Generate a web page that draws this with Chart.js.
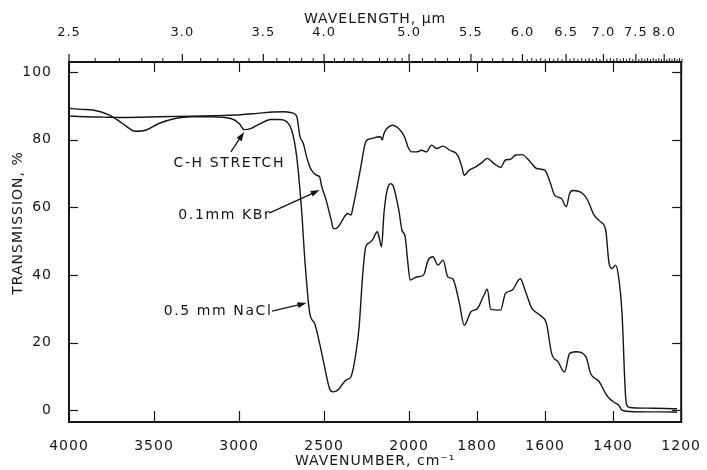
<!DOCTYPE html>
<html>
<head>
<meta charset="utf-8">
<title>IR transmission spectrum</title>
<script src="https://cdn.jsdelivr.net/npm/chart.js@4.4.1/dist/chart.umd.min.js"></script>
<style>
  html, body { margin: 0; padding: 0; background: #fff; }
  #wrap { width: 707px; height: 470px; }
</style>
</head>
<body>
<div id="wrap"><canvas id="spectrum" width="707" height="470"></canvas></div>
<script>
(function() {
    'use strict';

    // bottom axis, cm-1 (scale doubles below 2000)
    var wavenumberTicks = [4000, 3500, 3000, 2500, 2000, 1800, 1600, 1400, 1200];
    // top axis, um
    var wavelengthTicks = ['2.5', '3.0', '3.5', '4.0', '5.0', '5.5', '6.0', '6.5', '7.0', '7.5', '8.0'];
    var transmissionTicks = [0, 20, 40, 60, 80, 100];

    // 0.1 mm KBr pellet
    var kbrWavenumber = [4000, 3900, 3800, 3666, 3472, 3279, 3086, 2990, 2893, 2800, 2738, 2690, 2661,
        2642, 2622, 2603, 2584, 2574, 2545, 2526, 2516, 2487, 2458, 2446, 2430, 2419, 2400, 2381, 2361,
        2342, 2330, 2313, 2284, 2255, 2235, 2216, 2187, 2168, 2158, 2150, 2139, 2120, 2100, 2080, 2062,
        2040, 2023, 2008, 1992, 1978, 1963, 1949, 1934, 1920, 1900, 1881, 1857, 1845, 1838, 1823, 1804,
        1789, 1770, 1751, 1731, 1717, 1702, 1688, 1668, 1644, 1625, 1601, 1586, 1572, 1552, 1538, 1528,
        1518, 1490, 1475, 1456, 1437, 1422, 1412, 1403, 1393, 1384, 1374, 1364, 1360, 1350, 1300, 1250, 1212];
    var kbrTransmission = [87.0, 86.8, 86.7, 86.6, 86.8, 87.0, 87.2, 87.4, 87.8, 88.2, 88.3, 88.0, 87.0,
        81.0, 78.9, 75.0, 72.0, 71.0, 69.5, 69.0, 66.6, 62.0, 56.2, 53.8, 53.7, 54.2, 55.5, 57.2, 58.2,
        57.7, 60.0, 64.2, 72.0, 79.4, 80.2, 80.4, 80.8, 80.9, 79.9, 81.5, 82.8, 83.8, 84.3, 84.0, 83.3,
        82.0, 80.4, 78.0, 76.4, 76.4, 76.9, 76.4, 78.4, 77.4, 78.1, 76.9, 75.4, 72.0, 69.5, 71.0, 72.0,
        73.0, 74.5, 73.0, 71.8, 74.0, 74.2, 75.4, 75.6, 73.5, 71.5, 71.0, 67.6, 63.6, 62.6, 60.2, 64.1,
        65.0, 64.1, 62.1, 57.7, 55.7, 53.3, 43.4, 41.9, 42.9, 39.4, 28.7, 4.9, 1.5, 0.8, 0.6, 0.5, 0.4];

    // 0.5 mm NaCl cell
    var naclWavenumber = [4000, 3930, 3859, 3762, 3685, 3608, 3550, 3472, 3376, 3279, 3163, 3048, 2999,
        2970, 2932, 2874, 2816, 2758, 2719, 2690, 2661, 2632, 2613, 2584, 2555, 2526, 2497, 2468, 2448,
        2430, 2410, 2390, 2371, 2342, 2313, 2294, 2274, 2255, 2235, 2216, 2187, 2177, 2162, 2148, 2129,
        2110, 2095, 2081, 2060, 2042, 2023, 2010, 1997, 1978, 1958, 1944, 1930, 1915, 1900, 1886, 1872,
        1852, 1838, 1818, 1799, 1780, 1770, 1760, 1731, 1717, 1697, 1673, 1659, 1639, 1615, 1596, 1581,
        1562, 1543, 1528, 1509, 1480, 1466, 1441, 1422, 1412, 1395, 1384, 1374, 1350, 1300, 1250, 1212];
    var naclTransmission = [89.3, 89.0, 88.8, 87.3, 84.8, 82.5, 82.8, 84.8, 86.3, 86.8, 86.8, 86.3, 84.8,
        83.0, 83.3, 84.8, 86.0, 86.0, 85.3, 82.8, 75.0, 59.0, 44.4, 28.6, 25.6, 19.7, 12.8, 6.4, 5.4,
        5.6, 6.4, 7.8, 8.9, 9.9, 16.8, 24.6, 39.4, 48.3, 49.5, 50.3, 52.8, 51.3, 48.3, 58.2, 65.1,
        67.0, 66.5, 64.1, 59.0, 53.3, 51.3, 45.0, 38.5, 39.4, 39.9, 44.4, 45.4, 42.9, 44.4, 39.4, 38.9,
        31.6, 25.1, 29.1, 30.1, 34.0, 35.8, 29.8, 29.6, 34.5, 35.5, 38.9, 35.5, 30.1, 28.1, 25.6, 16.8,
        14.3, 11.3, 16.8, 17.3, 15.8, 10.8, 8.4, 4.9, 3.5, 2.2, 1.5, 0.0, -0.4, -0.5, -0.5, -0.6];

    // callouts, anchored in (cm-1, %T)
    var callouts = [
        { text: 'C-H STRETCH', at: [3385, 73.1], from: [3048, 76.4], to: [2970, 82.3] },
        { text: '0.1mm KBr', at: [3357, 57.7], from: [2823, 58.3], to: [2526, 65.1] },
        { text: '0.5 mm NaCl', at: [3443, 29.1], from: [2806, 29.3], to: [2603, 31.7] }
    ];

    var INK = '#161616';
    var FONT = 'DejaVu Sans';

    // chart position: 1 unit per cm-1 above 2000, 2 units per cm-1 below
    function wnToPos(wn) {
        return wn >= 2000 ? 4000 - wn : 2000 + 2 * (2000 - wn);
    }

    function toPoints(xs, ys) {
        return xs.map(function(w, i) { return { x: wnToPos(w), y: ys[i] }; });
    }

    function line(ctx, x1, y1, x2, y2) {
        ctx.beginPath();
        ctx.moveTo(x1, y1);
        ctx.lineTo(x2, y2);
        ctx.stroke();
    }

    var framePlugin = {
        id: 'frame',
        beforeDraw: function(chart) {
            chart.ctx.letterSpacing = '1px';
        },
        afterDraw: function(chart) {
            var ctx = chart.ctx;
            var a = chart.chartArea;
            var xs = chart.scales.x;
            var ys = chart.scales.y;

            ctx.save();
            ctx.strokeStyle = INK;
            ctx.fillStyle = INK;

            ctx.lineWidth = 2;
            ctx.strokeRect(a.left, a.top, a.right - a.left, a.bottom - a.top);

            ctx.lineWidth = 1.2;
            wavenumberTicks.forEach(function(w) {
                var x = Math.round(xs.getPixelForValue(wnToPos(w))) + 0.5;
                line(ctx, x, a.bottom, x, a.bottom - 11);
                line(ctx, x, a.top, x, a.top + 10);
            });
            transmissionTicks.forEach(function(t) {
                var y = Math.round(ys.getPixelForValue(t)) + 0.5;
                line(ctx, a.left, y, a.left + 9, y);
                line(ctx, a.right, y, a.right - 9, y);
            });

            // wavelength ticks above the frame
            wavelengthTicks.forEach(function(um) {
                var x = xs.getPixelForValue(wnToPos(1e4 / parseFloat(um)));
                line(ctx, x, a.top, x, a.top - 8);
            });
            ctx.lineWidth = 1;
            for (var k = 250; k <= 835; k += 5) {
                if (k % 50 === 0) continue;
                if (k < 600 && k % 10 !== 0) continue;
                var x = xs.getPixelForValue(wnToPos(1e6 / k));
                line(ctx, x, a.top, x, a.top - (k % 10 === 0 ? 4 : 3));
            }

            // callouts
            ctx.font = '14px "' + FONT + '"';
            ctx.letterSpacing = '1.6px';
            ctx.textAlign = 'left';
            ctx.textBaseline = 'middle';
            callouts.forEach(function(c) {
                var tx = xs.getPixelForValue(wnToPos(c.at[0]));
                var ty = ys.getPixelForValue(c.at[1]);
                ctx.fillText(c.text, tx, ty);

                var x1 = xs.getPixelForValue(wnToPos(c.from[0]));
                var y1 = ys.getPixelForValue(c.from[1]);
                var x2 = xs.getPixelForValue(wnToPos(c.to[0]));
                var y2 = ys.getPixelForValue(c.to[1]);
                var ang = Math.atan2(y2 - y1, x2 - x1);
                ctx.lineWidth = 1.3;
                line(ctx, x1, y1, x2 - 6 * Math.cos(ang), y2 - 6 * Math.sin(ang));
                ctx.beginPath();
                ctx.moveTo(x2, y2);
                ctx.lineTo(x2 - 9 * Math.cos(ang) + 3 * Math.sin(ang), y2 - 9 * Math.sin(ang) - 3 * Math.cos(ang));
                ctx.lineTo(x2 - 9 * Math.cos(ang) - 3 * Math.sin(ang), y2 - 9 * Math.sin(ang) + 3 * Math.cos(ang));
                ctx.closePath();
                ctx.fill();
            });

            // y title
            ctx.letterSpacing = '1px';
            ctx.textAlign = 'center';
            ctx.translate(18, 223);
            ctx.rotate(-Math.PI / 2);
            ctx.fillText('TRANSMISSION, %', 0, 0);
            ctx.restore();
        }
    };

    var tickFont = { family: FONT, size: 14 };

    new Chart(document.getElementById('spectrum').getContext('2d'), {
        type: 'line',
        data: {
            datasets: [{
                label: '0.1mm KBr',
                data: toPoints(kbrWavenumber, kbrTransmission),
                borderColor: INK,
                borderWidth: 1.4,
                pointRadius: 0,
                cubicInterpolationMode: 'monotone',
                fill: false
            }, {
                label: '0.5 mm NaCl',
                data: toPoints(naclWavenumber, naclTransmission),
                borderColor: INK,
                borderWidth: 1.4,
                pointRadius: 0,
                cubicInterpolationMode: 'monotone',
                fill: false
            }]
        },
        options: {
            responsive: false,
            animation: false,
            devicePixelRatio: 1,
            layout: { padding: { left: 0, right: 17, top: 0, bottom: 0 } },
            plugins: {
                legend: { display: false },
                tooltip: { enabled: false }
            },
            scales: {
                x: {
                    type: 'linear',
                    position: 'bottom',
                    min: 0,
                    max: wnToPos(1200),
                    afterBuildTicks: function(s) {
                        s.ticks = wavenumberTicks.map(function(w) { return { value: wnToPos(w) }; });
                    },
                    afterFit: function(s) { s.height = 48; },
                    ticks: {
                        autoSkip: false,
                        maxRotation: 0,
                        padding: 8,
                        color: INK,
                        font: tickFont,
                        callback: function(v, i) { return String(wavenumberTicks[i]); }
                    },
                    grid: { display: false },
                    border: { display: false },
                    title: {
                        display: true,
                        text: 'WAVENUMBER, cm\u207B\u00B9',
                        color: INK,
                        font: tickFont,
                        padding: { top: 0, bottom: 0 }
                    }
                },
                x2: {
                    type: 'linear',
                    axis: 'x',
                    position: 'top',
                    min: 0,
                    max: wnToPos(1200),
                    afterBuildTicks: function(s) {
                        s.ticks = wavelengthTicks.map(function(um) {
                            return { value: wnToPos(1e4 / parseFloat(um)) };
                        });
                    },
                    afterFit: function(s) { s.height = 62; },
                    ticks: {
                        autoSkip: false,
                        maxRotation: 0,
                        padding: 14,
                        color: INK,
                        font: { family: FONT, size: 13 },
                        callback: function(v, i) { return wavelengthTicks[i]; }
                    },
                    grid: { display: false },
                    border: { display: false },
                    title: {
                        display: true,
                        text: 'WAVELENGTH, \u00B5m',
                        color: INK,
                        font: tickFont,
                        padding: { top: 11, bottom: 0 }
                    }
                },
                y: {
                    min: -3.5,
                    max: 103,
                    afterBuildTicks: function(s) {
                        s.ticks = transmissionTicks.map(function(t) { return { value: t }; });
                    },
                    afterFit: function(s) { s.width = 69; },
                    ticks: {
                        padding: 9,
                        color: INK,
                        font: tickFont
                    },
                    grid: { display: false },
                    border: { display: false }
                }
            }
        },
        plugins: [framePlugin]
    });
})();
</script>
</body>
</html>
